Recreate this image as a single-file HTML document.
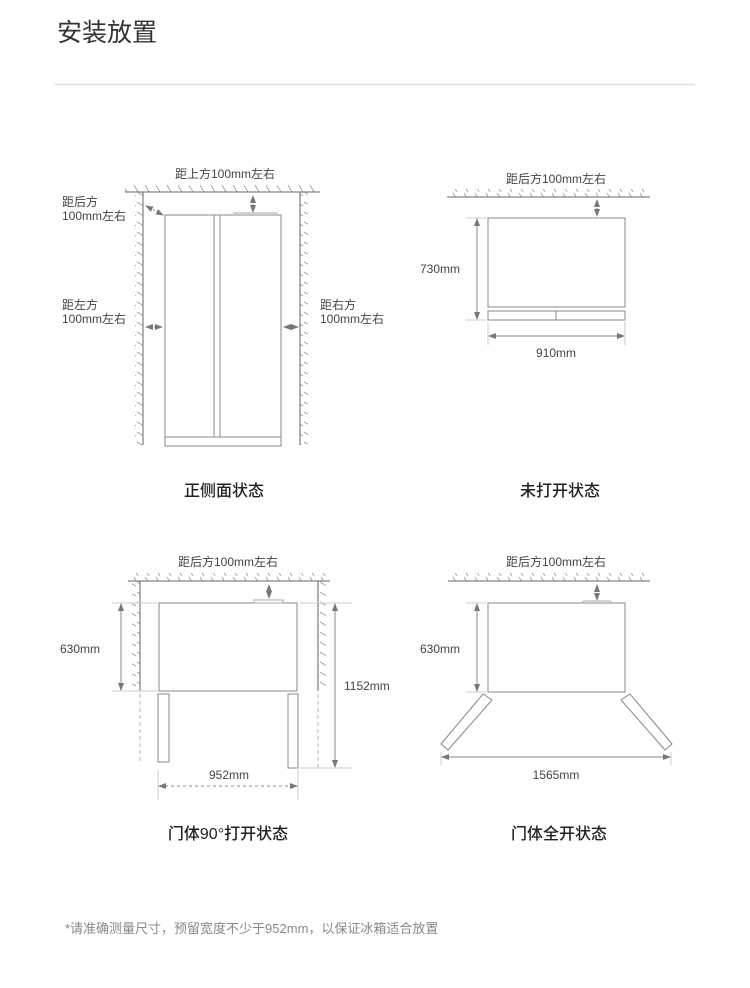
<!DOCTYPE html>
<html><head><meta charset="utf-8"><style>
html,body{margin:0;padding:0;background:#fff;}
body{width:750px;height:983px;overflow:hidden;font-family:"Liberation Sans","Noto Sans CJK SC",sans-serif;}
</style></head><body>
<svg width="750" height="983" viewBox="0 0 750 983" xmlns="http://www.w3.org/2000/svg" font-family="Liberation Sans, Noto Sans CJK SC, sans-serif">
<defs>
<pattern id="hc" width="11" height="8" patternUnits="userSpaceOnUse"><line x1="2" y1="1" x2="6" y2="8" stroke="#999" stroke-width="0.8"/></pattern>
<pattern id="hl" width="8" height="10" patternUnits="userSpaceOnUse"><line x1="1" y1="2" x2="8" y2="6" stroke="#999" stroke-width="0.8"/></pattern>
<pattern id="hr" width="8" height="10" patternUnits="userSpaceOnUse"><line x1="0" y1="2" x2="7" y2="6" stroke="#999" stroke-width="0.8"/></pattern>
<marker id="a" markerWidth="8" markerHeight="6" refX="7" refY="3" orient="auto" markerUnits="userSpaceOnUse"><path d="M0,0L8,3L0,6z" fill="#777"/></marker>
<marker id="s" markerWidth="8" markerHeight="6" refX="1" refY="3" orient="auto" markerUnits="userSpaceOnUse"><path d="M8,0L0,3L8,6z" fill="#777"/></marker>
</defs>
<text x="57" y="41" font-size="25" fill="#333">安装放置</text>
<line x1="55" y1="84.5" x2="695" y2="84.5" stroke="#ddd" stroke-width="1.5"/>

<g stroke="#666" fill="none" stroke-width="1">
<rect x="125" y="184" width="195" height="8" fill="url(#hc)" stroke="none"/>
<line x1="125" y1="192" x2="320" y2="192"/>
<rect x="135" y="192" width="8" height="253" fill="url(#hl)" stroke="none"/>
<line x1="143" y1="192" x2="143" y2="445"/>
<rect x="300" y="192" width="8" height="253" fill="url(#hr)" stroke="none"/>
<line x1="300" y1="192" x2="300" y2="445"/>
<rect x="165" y="215" width="116" height="222" stroke="#888"/>
<rect x="165" y="437" width="116" height="9" stroke="#888"/>
<line x1="214" y1="215" x2="214" y2="437" stroke="#888"/>
<line x1="220" y1="215" x2="220" y2="437" stroke="#888"/>
<line x1="233" y1="213" x2="278" y2="213" stroke="#aaa"/>
<line x1="253" y1="196" x2="253" y2="212" stroke="#777" stroke-dasharray="2,2" marker-start="url(#s)" marker-end="url(#a)"/>
<line x1="146" y1="206" x2="163" y2="215" stroke="#777" stroke-dasharray="2,2" marker-start="url(#s)" marker-end="url(#a)"/>
<line x1="146" y1="327" x2="162" y2="327" stroke="#777" stroke-dasharray="2,2" marker-start="url(#s)" marker-end="url(#a)"/>
<line x1="284" y1="327" x2="298" y2="327" stroke="#777" stroke-dasharray="2,2" marker-start="url(#s)" marker-end="url(#a)"/>

<rect x="447" y="189" width="203" height="8" fill="url(#hc)" stroke="none"/>
<line x1="447" y1="197" x2="650" y2="197"/>
<rect x="488" y="218" width="137" height="89" stroke="#888"/>
<rect x="488" y="311" width="137" height="9" stroke="#888"/>
<line x1="556" y1="311" x2="556" y2="320" stroke="#888"/>
<line x1="597" y1="200" x2="597" y2="216" stroke="#777" stroke-dasharray="2,2" marker-start="url(#s)" marker-end="url(#a)"/>
<line x1="466" y1="218" x2="486" y2="218" stroke="#ccc"/>
<line x1="466" y1="320" x2="486" y2="320" stroke="#ccc"/>
<line x1="477" y1="219" x2="477" y2="319" stroke="#888" marker-start="url(#s)" marker-end="url(#a)"/>
<line x1="488" y1="322" x2="488" y2="345" stroke="#ccc"/>
<line x1="625" y1="322" x2="625" y2="345" stroke="#ccc"/>
<line x1="489" y1="336" x2="624" y2="336" stroke="#888" marker-start="url(#s)" marker-end="url(#a)"/>

<rect x="128" y="573" width="202" height="8" fill="url(#hc)" stroke="none"/>
<line x1="128" y1="581" x2="330" y2="581"/>
<rect x="132" y="581" width="8" height="110" fill="url(#hl)" stroke="none"/>
<line x1="140" y1="581" x2="140" y2="691"/>
<line x1="140" y1="694" x2="140" y2="762" stroke="#bbb" stroke-dasharray="4,3"/>
<rect x="318" y="581" width="8" height="110" fill="url(#hr)" stroke="none"/>
<line x1="318" y1="581" x2="318" y2="691"/>
<line x1="318" y1="694" x2="318" y2="770" stroke="#bbb" stroke-dasharray="4,3"/>
<rect x="159" y="603" width="138" height="88" stroke="#888"/>
<rect x="254" y="600" width="29" height="3" stroke="#aaa"/>
<rect x="158" y="694" width="11" height="68" stroke="#888"/>
<rect x="288" y="694" width="10" height="74" stroke="#888"/>
<line x1="269" y1="585" x2="269" y2="598" stroke="#777" stroke-dasharray="2,2" marker-start="url(#s)" marker-end="url(#a)"/>
<line x1="112" y1="603" x2="157" y2="603" stroke="#ccc"/>
<line x1="112" y1="691" x2="157" y2="691" stroke="#ccc"/>
<line x1="121" y1="604" x2="121" y2="690" stroke="#888" marker-start="url(#s)" marker-end="url(#a)"/>
<line x1="300" y1="603" x2="352" y2="603" stroke="#ccc"/>
<line x1="300" y1="768" x2="352" y2="768" stroke="#ccc"/>
<line x1="335" y1="604" x2="335" y2="767" stroke="#888" marker-start="url(#s)" marker-end="url(#a)"/>
<line x1="158" y1="770" x2="158" y2="800" stroke="#ccc"/>
<line x1="298" y1="770" x2="298" y2="800" stroke="#ccc"/>
<line x1="159" y1="786" x2="297" y2="786" stroke="#888" stroke-dasharray="3,3" marker-start="url(#s)" marker-end="url(#a)"/>

<rect x="448" y="573" width="202" height="8" fill="url(#hc)" stroke="none"/>
<line x1="448" y1="581" x2="650" y2="581"/>
<rect x="488" y="603" width="137" height="89" stroke="#888"/>
<path d="M582,603 L584,601 L610,601 L612,603" stroke="#aaa"/>
<line x1="597" y1="585" x2="597" y2="600" stroke="#777" stroke-dasharray="2,2" marker-start="url(#s)" marker-end="url(#a)"/>
<line x1="466" y1="603" x2="486" y2="603" stroke="#ccc"/>
<line x1="466" y1="692" x2="486" y2="692" stroke="#ccc"/>
<line x1="477" y1="604" x2="477" y2="691" stroke="#888" marker-start="url(#s)" marker-end="url(#a)"/>
<polygon points="483,694 492,700 448,750 441,744" stroke="#888"/>
<polygon points="630,694 621,700 665,750 672,744" stroke="#888"/>
<line x1="441" y1="752" x2="441" y2="765" stroke="#ccc"/>
<line x1="671" y1="752" x2="671" y2="765" stroke="#ccc"/>
<line x1="442" y1="757" x2="670" y2="757" stroke="#888" marker-start="url(#s)" marker-end="url(#a)"/>
</g>

<g font-size="12" fill="#444">
<text x="225" y="178" text-anchor="middle">距上方100mm左右</text>
<text x="62" y="206">距后方</text>
<text x="62" y="220">100mm左右</text>
<text x="62" y="309">距左方</text>
<text x="62" y="323">100mm左右</text>
<text x="320" y="309">距右方</text>
<text x="320" y="323">100mm左右</text>
<text x="556" y="183" text-anchor="middle">距后方100mm左右</text>
<text x="420" y="273">730mm</text>
<text x="556" y="357" text-anchor="middle">910mm</text>
<text x="228" y="566" text-anchor="middle">距后方100mm左右</text>
<text x="60" y="653">630mm</text>
<text x="344" y="690">1152mm</text>
<text x="229" y="779" text-anchor="middle">952mm</text>
<text x="556" y="566" text-anchor="middle">距后方100mm左右</text>
<text x="420" y="653">630mm</text>
<text x="556" y="779" text-anchor="middle">1565mm</text>
</g>
<g font-size="16" fill="#222" text-anchor="middle" font-weight="500">
<text x="224" y="496">正侧面状态</text>
<text x="560" y="496">未打开状态</text>
<text x="228" y="839">门体90°打开状态</text>
<text x="559" y="839">门体全开状态</text>
</g>
<text x="65" y="933" font-size="13" fill="#888">*请准确测量尺寸，预留宽度不少于952mm，以保证冰箱适合放置</text>
</svg>
</body></html>
